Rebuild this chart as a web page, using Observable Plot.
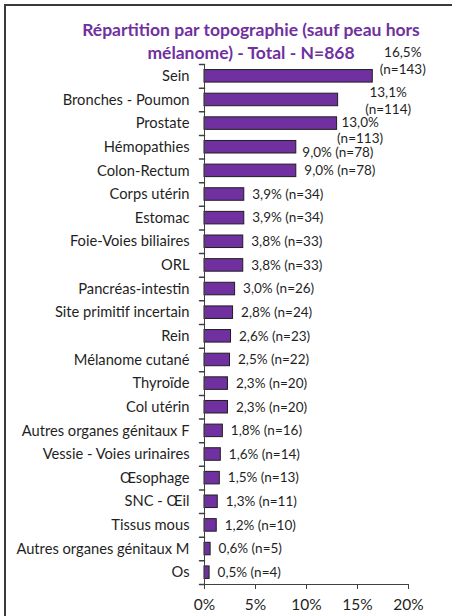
<!DOCTYPE html>
<html>
<head>
<meta charset="utf-8">
<script src="https://cdn.jsdelivr.net/npm/d3@7"></script>
<script src="https://cdn.jsdelivr.net/npm/@observablehq/plot@0.6"></script>
<style>
  html, body { margin: 0; padding: 0; background: #fff; }
  #wrap { position: relative; width: 452px; height: 616px; overflow: hidden; font-family: Lato, "Liberation Sans", sans-serif; }
  #frame { position: absolute; left: 4px; top: 4px; width: 460px; height: 640px; border-left: 2px solid #3a3a3a; border-top: 2px solid #3a3a3a; pointer-events: none; }
  #title { position: absolute; left: 0; width: 502px; top: 18px; text-align: center; color: #7030A0; font-weight: bold; font-size: 17.5px; line-height: 23px; }
  #chart { position: absolute; left: 0; top: 0; }
  #chart svg { overflow: visible; }
</style>
</head>
<body>
<div id="wrap">
  <div id="chart"></div>
  <div id="frame"></div>
  <div id="title">Répartition par topographie (sauf peau hors<br>mélanome) - Total - N=868</div>
</div>
<script>
const categories = ["Sein", "Bronches - Poumon", "Prostate", "Hémopathies", "Colon-Rectum", "Corps utérin", "Estomac", "Foie-Voies biliaires", "ORL", "Pancréas-intestin", "Site primitif incertain", "Rein", "Mélanome cutané", "Thyroïde", "Col utérin", "Autres organes génitaux F", "Vessie - Voies urinaires", "Œsophage", "SNC - Œil", "Tissus mous", "Autres organes génitaux M", "Os"];
const percents = [16.5, 13.1, 13.0, 9.0, 9.0, 3.9, 3.9, 3.8, 3.8, 3.0, 2.8, 2.6, 2.5, 2.3, 2.3, 1.8, 1.6, 1.5, 1.3, 1.2, 0.6, 0.5];
const counts = [143, 114, 113, 78, 78, 34, 34, 33, 33, 26, 24, 23, 22, 20, 20, 16, 14, 13, 11, 10, 5, 4];
const xTicks = [0, 5, 10, 15, 20];

const data = categories.map((c, i) => ({cat: c, pct: percents[i], n: counts[i]}));
const pctStr = d => d.pct.toFixed(1).replace(".", ",") + "%";
const oneLine = d => `${pctStr(d)} (n=${d.n})`;
const twoLine = d => `${pctStr(d)}\n(n=${d.n})`;

const W = 452, H = 616, mt = 64, mb = 32, ml = 204, mr = 44;
const step = (H - mt - mb) / categories.length;
const barInset = step * 0.235;
const purple = "#7030A0";
const ink = "#1f1f1f";
const axisInk = "#404040";
const tickShape = {draw(c, l) { c.moveTo(0, 0); c.lineTo(0, -l); }};
const lblSize = 13.5;

const inline = data.filter((d, i) => i >= 4);
const last = categories[categories.length - 1];
const plot = Plot.plot({
  width: W, height: H,
  marginTop: mt, marginBottom: mb, marginLeft: ml, marginRight: mr,
  style: {fontFamily: "Lato, 'Liberation Sans', sans-serif", background: "transparent", overflow: "visible"},
  x: {domain: [0, 20], ticks: xTicks},
  y: {domain: categories, padding: 0, round: false},
  marks: [
    Plot.barX(data, {x: "pct", y: "cat", fill: purple, stroke: "#1e1e1e", strokeWidth: 1, insetTop: barInset, insetBottom: barInset}),
    Plot.ruleX([0], {stroke: axisInk, strokeWidth: 1}),
    Plot.link([last], {x1: 0, x2: 20, y1: d => d, y2: d => d, dy: step / 2, stroke: axisInk, strokeWidth: 1}),
    Plot.vector(categories, {y: d => d, frameAnchor: "left", length: 5, rotate: 270, anchor: "start", dy: -step / 2, stroke: axisInk, shape: tickShape}),
    Plot.vector([last], {y: d => d, frameAnchor: "left", length: 5, rotate: 270, anchor: "start", dy: step / 2, stroke: axisInk, shape: tickShape}),
    Plot.axisY({tickSize: 0, tickPadding: 15, fontSize: 14.7, fill: ink, label: null}),
    Plot.axisX({ticks: xTicks, tickFormat: d => d + "%", tickSize: 5, tickPadding: 9, fontSize: 15.5, fill: ink, stroke: axisInk, label: null}),
    // labels
    Plot.text(inline, {x: "pct", y: "cat", text: oneLine, textAnchor: "start", dx: 8, fontSize: lblSize, fill: ink}),
    Plot.text(data.slice(3, 4), {x: "pct", y: "cat", text: oneLine, textAnchor: "start", dx: 6, dy: 5.5, fontSize: lblSize, fill: ink}),
    Plot.text(data.slice(0, 1), {x: "pct", y: "cat", text: twoLine, textAnchor: "middle", lineAnchor: "middle", lineHeight: 1.2, dx: 30, dy: -16, fontSize: lblSize, fill: ink}),
    Plot.text(data.slice(1, 2), {x: "pct", y: "cat", text: twoLine, textAnchor: "middle", lineAnchor: "middle", lineHeight: 1.25, dx: 50, dy: 0, fontSize: lblSize, fill: ink}),
    Plot.text(data.slice(2, 3), {x: "pct", y: "cat", text: twoLine, textAnchor: "middle", lineAnchor: "middle", lineHeight: 1.2, dx: 23, dy: 6.5, fontSize: lblSize, fill: ink})
  ]
});
document.getElementById("chart").appendChild(plot);
</script>
</body>
</html>
